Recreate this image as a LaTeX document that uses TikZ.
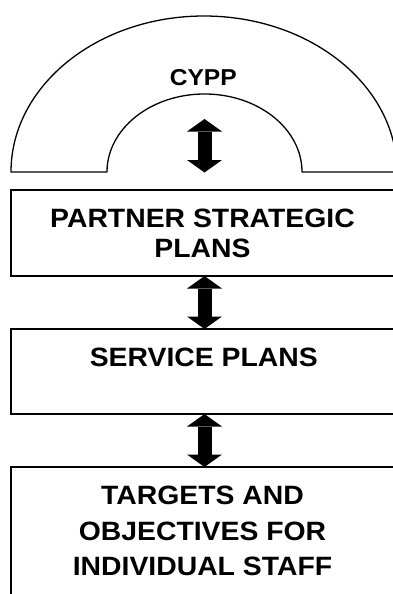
\documentclass[tikz,border=0pt]{standalone}
\usepackage{fontspec}
\setmainfont{Liberation Sans}
\newfontfamily\dfont[FakeStretch=1.07]{Liberation Sans}
\usetikzlibrary{arrows.meta}
\begin{document}
\begin{tikzpicture}[x=1pt,y=-1pt,
  outline/.style={draw=black,line width=1.3pt},
  stage/.style={outline,anchor=north west,minimum width=387pt,inner sep=0pt,outer sep=0pt},
  lbl/.style={align=center,inner sep=0pt,text=black},
  bigarrow/.style={line width=14pt,
    {Triangle[width=35pt,length=12.5pt,line width=0pt]}-{Triangle[width=35pt,length=12.5pt,line width=0pt]}}
]
\useasboundingbox (0,0) rectangle (392,594);
% arch
\draw[outline,line join=round] (11,172) coordinate (archL)
  arc[start angle=180,end angle=360,x radius=193,y radius=156]
  -- (302,172) arc[start angle=0,end angle=-180,x radius=97.5,y radius=78]
  -- cycle;
\coordinate (archin) at (204.5,119);
\coordinate (archbase) at (204.5,172.5);
\node[lbl,font=\dfont\bfseries\fontsize{23}{27}\selectfont] (cypp) at (203.3,77.4) {CYPP};
% boxes
\node[stage,minimum height=86pt] (b1) at (11,190) {};
\node[stage,minimum height=85pt] (b2) at (11,329) {};
\node[stage,minimum height=150pt] (b3) at (11,467) {};
% labels
\node[lbl,font=\dfont\bfseries\fontsize{26.5}{30}\selectfont] (t1) at (202.5,233.8) {PARTNER STRATEGIC\\PLANS};
\node[lbl,font=\dfont\bfseries\fontsize{26.5}{30}\selectfont] (t2) at (203.8,357) {SERVICE PLANS};
\node[lbl,font=\dfont\bfseries\fontsize{26.5}{35.5}\selectfont] (t3) at (202.5,531) {TARGETS AND\\OBJECTIVES FOR\\INDIVIDUAL STAFF};
% arrows
\draw[bigarrow] (archin) -- (archbase);
\draw[bigarrow] (b1.south) -- (b2.north);
\draw[bigarrow] (b2.south) -- (b3.north);
\end{tikzpicture}
\end{document}
